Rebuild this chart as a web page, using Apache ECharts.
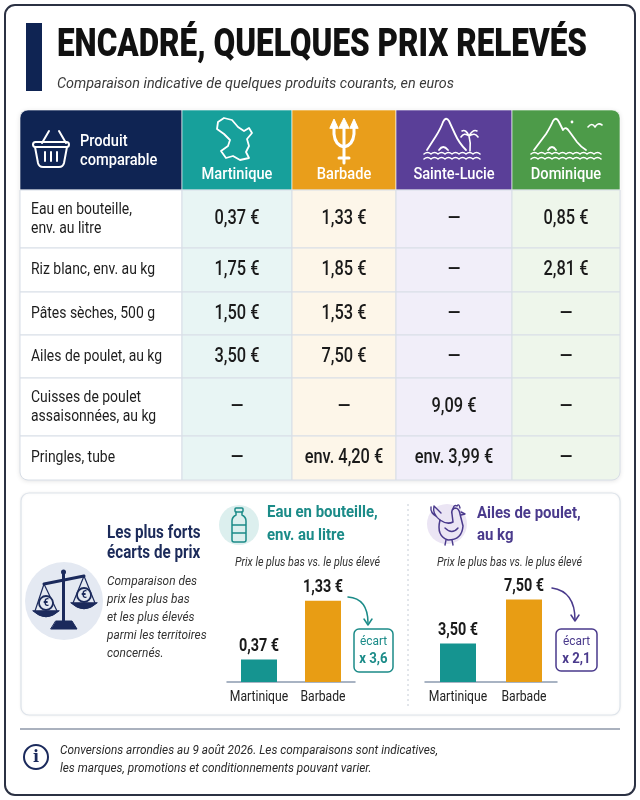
<!DOCTYPE html>
<html><head><meta charset="utf-8">
<script src="https://cdn.jsdelivr.net/npm/echarts@6.0.0/dist/echarts.min.js"></script>
<style>html,body{margin:0;padding:0;background:#fff}#c{width:640px;height:800px}</style>
</head><body><div id="c"></div>
<script>
// ---------- DATA ----------
const titleText = 'ENCADRÉ, QUELQUES PRIX RELEVÉS';
const subtitleText = 'Comparaison indicative de quelques produits courants, en euros';
const headerProduct = 'Produit\ncomparable';
const territories = ['Martinique', 'Barbade', 'Sainte-Lucie', 'Dominique'];
const products = ['Eau en bouteille,\nenv. au litre', 'Riz blanc, env. au kg', 'Pâtes sèches, 500 g',
  'Ailes de poulet, au kg', 'Cuisses de poulet\nassaisonnées, au kg', 'Pringles, tube'];
const pricesMartinique = [0.37, 1.75, 1.50, 3.50, null, null];
const pricesBarbade = [1.33, 1.85, 1.53, 7.50, null, 4.20];
const pricesSainteLucie = [null, null, null, null, 9.09, 3.99];
const pricesDominique = [0.85, 2.81, null, null, null, null];
const approxRow = [false, false, false, false, false, true];

const gapTitle = 'Les plus forts\nécarts de prix';
const gapText = 'Comparaison des\nprix les plus bas\net les plus élevés\nparmi les territoires\nconcernés.';
const chartSub = 'Prix le plus bas vs. le plus élevé';
const waterTitle = 'Eau en bouteille,\nenv. au litre';
const waterCategories = ['Martinique', 'Barbade'];
const waterValues = [0.37, 1.33];
const wingsTitle = 'Ailes de poulet,\nau kg';
const wingsCategories = ['Martinique', 'Barbade'];
const wingsValues = [3.50, 7.50];
const footerLines = ['Conversions arrondies au 9 août 2026. Les comparaisons sont indicatives,',
  'les marques, promotions et conditionnements pouvant varier.'];

// ---------- STYLE / LAYOUT ----------
const FF = 'Roboto, "Noto Sans", sans-serif';
const C = { navy: '#0f2453', teal: '#17a09b', orange: '#e99e1b', purple: '#5a3f98', green: '#4d9b49',
  tealDark: '#1b8b88', purpleDark: '#4a3a8c', text: '#1c1c1c' };
const territoryColor = { 'Martinique': '#159490', 'Barbade': '#e89d14' };
const headerFills = [C.navy, C.teal, C.orange, C.purple, C.green];
const bodyFills = ['#ffffff', '#e8f5f4', '#fdf6e9', '#f1eef9', '#eef6eb'];
const COLS = [0, 162, 272, 376, 492, 600];
const ROWS = [0, 80, 138, 182, 225, 268, 326, 370];

const mctx = document.createElement('canvas').getContext('2d');
function fit(text, style, weight, size, target) {
  mctx.font = `${style} ${weight} ${size}px ${FF}`;
  return target / mctx.measureText(text).width;
}
function fmt(v) { return v.toFixed(2).replace('.', ',') + ' €'; }
function ratioText(vals) { return 'x ' + (Math.max(...vals) / Math.min(...vals)).toFixed(1).replace('.', ','); }

function T(text, x, y, o) {
  return { type: 'text', x, y, scaleX: o.sx || 1, z: o.z || 100, silent: true,
    style: { text, fill: o.color || C.text, fontSize: o.size || 14, fontWeight: o.weight || 'normal',
      fontStyle: o.style || 'normal', fontFamily: FF, align: o.align || 'left', verticalAlign: 'middle',
      lineHeight: o.lh || undefined } };
}
const paths = [];
function P(d, stroke, lw, fill) {
  paths.push({ type: 'path', shape: { pathData: d },
    style: { stroke: stroke, lineWidth: lw, fill: fill || 'none', lineCap: 'round', lineJoin: 'round' } });
}
function waves(x0, x1, y) {
  let d = `M${x0},${y}`;
  for (let x = x0; x + 7 <= x1 + 0.1; x += 7) d += ` Q${x + 3.5},${y - 3} ${x + 7},${y}`;
  return d;
}

// ---------- TABLE (custom series) ----------
const priceTable = [pricesMartinique, pricesBarbade, pricesSainteLucie, pricesDominique];
const cells = [];
for (let r = 0; r <= products.length; r++) for (let c = 0; c <= territories.length; c++) cells.push([c, r]);

function renderTableCell(params, api) {
  const c = api.value(0), r = api.value(1);
  const a = api.coord([COLS[c], ROWS[r]]), b = api.coord([COLS[c + 1], ROWS[r + 1]]);
  const x = a[0], y = a[1], w = b[0] - a[0], h = b[1] - a[1];
  const last = ROWS.length - 2, lastC = COLS.length - 2;
  let rad = 0;
  if (r === 0 && c === 0) rad = [8, 0, 0, 0];
  if (r === 0 && c === lastC) rad = [0, 8, 0, 0];
  if (r === last && c === 0) rad = [0, 0, 0, 8];
  if (r === last && c === lastC) rad = [0, 0, 8, 0];
  const ch = [{ type: 'rect', shape: { x, y, width: w, height: h, r: rad },
    style: { fill: r === 0 ? headerFills[c] : bodyFills[c], stroke: r === 0 ? 'rgba(255,255,255,0.6)' : '#d8dee7', lineWidth: 1 } }];
  if (r === 0) {
    if (c === 0) ch.push(T(headerProduct, x + 60, y + 41, { sx: 0.86, size: 17, weight: 500, color: '#fff', lh: 19 }));
    else ch.push(T(territories[c - 1], x + w / 2, y + 65, { sx: 0.86, size: 17, weight: 500, color: '#fff', align: 'center' }));
  } else {
    if (c === 0) ch.push(T(products[r - 1], x + 11, y + h / 2, { sx: 0.82, size: 17, color: '#1d1d1d', lh: 19 }));
    else {
      const v = priceTable[c - 1][r - 1];
      const s = v == null ? '—' : (approxRow[r - 1] ? 'env. ' : '') + fmt(v);
      ch.push(T(s, x + w / 2, y + h / 2, { sx: 0.78, size: 21, weight: 500, color: '#1a1a1a', align: 'center' }));
    }
  }
  return { type: 'group', children: ch };
}

// ---------- BAR LABELS (custom series on bar grids) ----------
function labelRenderer(cats) {
  return function (params, api) {
    const i = api.value(0), v = api.value(1);
    const top = api.coord([i, v]), base = api.coord([i, 0]);
    return { type: 'group', children: [
      T(fmt(v), top[0], top[1] - 13, { sx: 0.8, size: 18, weight: 'bold', color: '#1a1a1a', align: 'center' }),
      T(cats[i], base[0], base[1] + 15, { sx: 0.84, size: 14.5, color: '#222', align: 'center' })
    ] };
  };
}
function barData(cats, vals) {
  return vals.map((v, i) => ({ value: v, itemStyle: { color: territoryColor[cats[i]] } }));
}

// ---------- GRAPHIC (frame, titles) + icon paths ----------
const W = '#ffffff', N = '#1b2a5c', PU = C.purpleDark;
const g = [];
function R(x, y, w, h, r, style, z) { g.push({ type: 'rect', z: z == null ? 100 : z, silent: true, shape: { x, y, width: w, height: h, r }, style }); }
function O(cx, cy, r, style, z) { g.push({ type: 'circle', z: z == null ? 100 : z, silent: true, shape: { cx, cy, r }, style }); }

R(5, 5, 630, 790, 10, { fill: '#fff', stroke: '#2b3143', lineWidth: 2 }, -10);
R(26, 23, 16, 68, 0, { fill: C.navy });
g.push(T(titleText, 57, 46, { sx: fit(titleText, 'normal', 900, 39, 530), size: 39, weight: 900, color: '#111' }));
g.push(T(subtitleText, 57, 84, { sx: fit(subtitleText, 'italic', 'normal', 14.5, 397), size: 14.5, style: 'italic', color: '#3a3a3a' }));
R(20, 110, 600, 370, 8, { fill: '#fff', shadowBlur: 5, shadowColor: 'rgba(0,0,0,0.12)', shadowOffsetY: 1 }, -5);

// header icons
P('M42,143 L49,131 M66,143 L59,131', W, 2);
R(33, 142, 36, 5, 2.5, { fill: 'none', stroke: W, lineWidth: 2 });
P('M35,147 L38,163 Q39,167 43,167 L59,167 Q63,167 64,163 L67,147', W, 2);
P('M45,152 L45,161 M51,152 L51,161 M57,152 L57,161', W, 2);
P('M218,122 L224,118 L232,120 L238,127 L244,131 L249,128 L252,133 L247,139 L249,146 L246,152 L249,158 L240,160 L233,156 L226,158 L221,151 L228,146 L230,140 L224,134 L217,129 Z', W, 1.8);
P('M344,124 L344,163 M334,124 L334,134 Q335,145 344,147 M354,124 L354,134 Q353,145 344,147 M339,158 L349,158', W, 3);
P('M339,128 L344,118 L349,128 Z M330,128 L334,119 L338,128 Z M350,128 L354,119 L358,128 Z', W, 1, W);
P('M427,150 L436,136 Q441,128 443,122 Q446,116 449,121 L455,134 Q459,143 466,150 M439,150 Q443,144 448,150', W, 1.8);
P('M470,151 Q471,143 469,136 M469,136 Q464,132 461,137 M469,136 Q475,132 478,137 M469,136 Q466,129 462,131 M469,136 Q473,129 477,131', W, 1.6);
P(waves(424, 480, 154) + ' ' + waves(424, 480, 159), W, 1.6);
P('M534,150 L546,134 Q551,126 553,121 Q556,116 559,122 L563,130 Q566,126 569,131 L577,142 Q581,147 586,150 M548,150 Q552,144 556,150', W, 1.8);
O(572, 122, 1.4, { fill: W });
P('M588,127 Q592,122 595,127 Q598,122 602,125', W, 1.6);
P(waves(531, 601, 154) + ' ' + waves(531, 601, 159), W, 1.6);

// lower panel
R(21, 493, 599, 222, 8, { fill: '#fff', stroke: '#dde3ea', lineWidth: 1.2, shadowBlur: 3, shadowColor: 'rgba(0,0,0,0.06)' }, -5);
O(64, 601, 39, { fill: '#e4e9f2' }, 1);
R(62, 573, 3, 48, 0, { fill: N });
O(63.5, 572, 2.5, { fill: N });
P('M44,584 L84,576', N, 3);
P('M44,584 L35,611 M44,584 L57,611 M84,576 L73,603 M84,576 L95,603', N, 1.2);
P('M33,611 Q46,623 59,611 Z M71,603 Q84,615 97,603 Z', N, 1, N);
P('M51,629 L77,629 L72,621 L56,621 Z', N, 1, N);
g.push(T(gapTitle, 107, 543, { sx: 0.8, size: 19, weight: 'bold', color: '#1c2b5a', lh: 20 }));
g.push(T(gapText, 107, 618, { sx: 0.88, size: 13.5, style: 'italic', color: '#333', lh: 18 }));

// water block
O(239, 525, 20, { fill: '#dcefee' }, 1);
R(235, 508, 8, 4, 1, { fill: 'none', stroke: C.tealDark, lineWidth: 1.5 });
P('M236,512 L236,515 Q232,517 232,521 L232,540 Q232,542 234,542 L244,542 Q246,542 246,540 L246,521 Q246,517 242,515 L242,512 M232,525 L246,525 M232,533 L246,533', C.tealDark, 1.5);
g.push(T(waterTitle, 267, 524, { sx: 0.88, size: 17, weight: 'bold', color: C.tealDark, lh: 23 }));
g.push(T(chartSub, 235, 563, { sx: fit(chartSub, 'italic', 'normal', 13, 145), size: 13, style: 'italic', color: '#333' }));
P('M348,597 C362,598 368,608 368,623', C.tealDark, 1.5);
P('M364,619 L368,625 L372,619', C.tealDark, 1.5);
R(354, 629, 39, 43, 5, { fill: '#fff', stroke: C.tealDark, lineWidth: 1.5 });
g.push(T('écart', 373.5, 642, { sx: 0.88, size: 13.5, color: C.tealDark, align: 'center' }));
g.push(T(ratioText(waterValues), 373.5, 659, { sx: 0.85, size: 15.5, weight: 'bold', color: C.tealDark, align: 'center' }));
g.push({ type: 'line', z: 1, silent: true, shape: { x1: 408, y1: 504, x2: 408, y2: 706 }, style: { stroke: '#c5ccd6', lineWidth: 1, lineDash: [2, 3] } });

// wings block
O(447, 524, 20, { fill: '#ebe5f4' }, 1);
P('M440,520 Q436,536 448,540 Q462,540 463,526 L460,514 Q459,508 455,508 Q451,509 452,514 L453,522 Q447,525 440,520 Z', PU, 1.5);
P('M440,520 Q432,514 434,506 Q438,510 441,513 M437,517 Q430,513 431,507 M453,509 Q454,504 457,506 Q459,503 460,508 M461,512 L465,514 L461,515 M445,528 Q452,535 458,528 M446,540 L445,545 M452,540 L453,545', PU, 1.4);
g.push(T(wingsTitle, 477, 525, { sx: 0.88, size: 17, weight: 'bold', color: PU, lh: 22 }));
g.push(T(chartSub, 437, 563, { sx: fit(chartSub, 'italic', 'normal', 13, 145), size: 13, style: 'italic', color: '#333' }));
P('M552,588 C566,590 575,600 575,620', PU, 1.5);
P('M571,615 L575,621 L579,615', PU, 1.5);
R(556, 629, 41, 42, 5, { fill: '#fff', stroke: PU, lineWidth: 1.5 });
g.push(T('écart', 576.5, 642, { sx: 0.88, size: 13.5, color: PU, align: 'center' }));
g.push(T(ratioText(wingsValues), 576.5, 659, { sx: 0.85, size: 15.5, weight: 'bold', color: PU, align: 'center' }));

// footer
g.push({ type: 'line', z: 1, silent: true, shape: { x1: 20, y1: 729, x2: 620, y2: 729 }, style: { stroke: '#56657f', lineWidth: 1.2 } });
O(36, 757, 12, { fill: 'none', stroke: N, lineWidth: 2 });
g.push({ type: 'text', z: 100, silent: true, x: 36, y: 758, style: { text: 'i', fontFamily: '"DejaVu Serif", serif', fontWeight: 'bold', fontSize: 16, fill: N, align: 'center', verticalAlign: 'middle' } });
const fs = fit(footerLines[0], 'italic', 'normal', 13.5, 378);
g.push(T(footerLines.join('\n'), 60, 760, { sx: fs, size: 13.5, style: 'italic', color: '#2a2a2a', lh: 18 }));

// coins (on top of scale paths)
const coins = [[46, 603], [84, 595]];

// ---------- CHART ----------
const chart = echarts.init(document.getElementById('c'), null, { renderer: 'canvas' });
const barAxisX = (gi, cats) => ({ gridIndex: gi, type: 'category', data: cats,
  axisLine: { lineStyle: { color: '#8c9bb0', width: 1.5 } }, axisTick: { show: false }, axisLabel: { show: false }, splitLine: { show: false } });
chart.setOption({
  animation: false,
  backgroundColor: '#ffffff',
  grid: [
    { left: 20, top: 110, width: 600, height: 370 },
    { left: 227, top: 572, width: 128, height: 110 },
    { left: 425, top: 572, width: 132, height: 110 }
  ],
  xAxis: [
    { gridIndex: 0, type: 'value', min: 0, max: 600, show: false },
    barAxisX(1, waterCategories),
    barAxisX(2, wingsCategories)
  ],
  yAxis: [
    { gridIndex: 0, type: 'value', min: 0, max: 370, inverse: true, show: false },
    { gridIndex: 1, type: 'value', min: 0, max: 1.8, show: false },
    { gridIndex: 2, type: 'value', min: 0, max: 10, show: false }
  ],
  series: [
    { type: 'custom', xAxisIndex: 0, yAxisIndex: 0, data: cells, renderItem: renderTableCell, clip: false, z: 2, silent: true },
    { type: 'bar', xAxisIndex: 1, yAxisIndex: 1, data: barData(waterCategories, waterValues), barWidth: 36, silent: true },
    { type: 'bar', xAxisIndex: 2, yAxisIndex: 2, data: barData(wingsCategories, wingsValues), barWidth: 36, silent: true },
    { type: 'custom', xAxisIndex: 1, yAxisIndex: 1, data: waterValues.map((v, i) => [i, v]), renderItem: labelRenderer(waterCategories), clip: false, z: 5, silent: true },
    { type: 'custom', xAxisIndex: 2, yAxisIndex: 2, data: wingsValues.map((v, i) => [i, v]), renderItem: labelRenderer(wingsCategories), clip: false, z: 5, silent: true },
    { type: 'custom', coordinateSystem: 'none', data: [0], z: 20, silent: true,
      renderItem: function () {
        const ch = paths.slice();
        coins.forEach(p => {
          ch.push({ type: 'circle', shape: { cx: p[0], cy: p[1], r: 7 }, style: { fill: '#e4e9f2', stroke: N, lineWidth: 1.8 } });
          ch.push({ type: 'text', x: p[0], y: p[1] + 0.5, style: { text: '€', fontSize: 10, fontWeight: 'bold', fontFamily: FF, fill: N, align: 'center', verticalAlign: 'middle' } });
        });
        return { type: 'group', children: ch };
      } }
  ],
  graphic: { elements: g }
});
</script></body></html>
